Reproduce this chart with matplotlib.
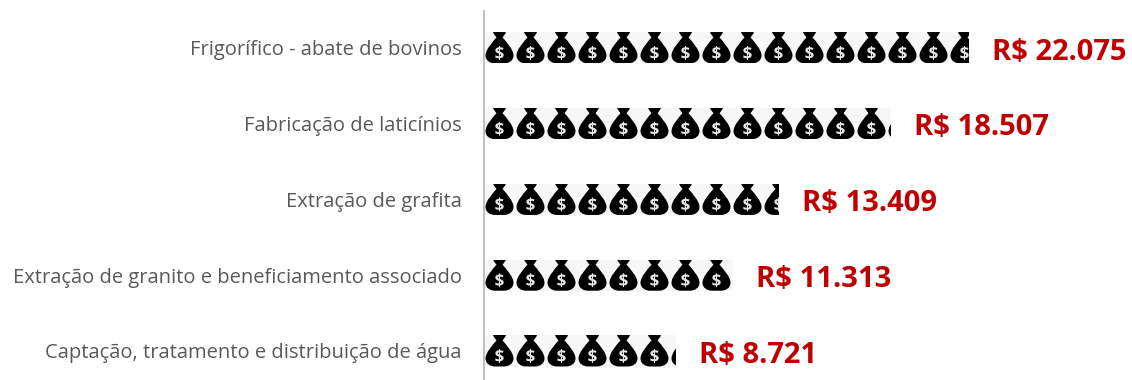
import matplotlib
matplotlib.use("Agg")
import matplotlib.pyplot as plt
from matplotlib.patches import PathPatch
from matplotlib.path import Path
from matplotlib.textpath import TextPath
from matplotlib.font_manager import FontProperties
from matplotlib.transforms import Affine2D

categories = ["Frigorífico - abate de bovinos", "Fabricação de laticínios", "Extração de grafita",
              "Extração de granito e beneficiamento associado", "Captação, tratamento e distribuição de água"]
values = [22075, 18507, 13409, 11313, 8721]
value_labels = ["R$ 22.075", "R$ 18.507", "R$ 13.409", "R$ 11.313", "R$ 8.721"]

W, H = 1132, 380
plt.rcParams["font.family"] = ["Open Sans", "DejaVu Sans"]

fig = plt.figure(figsize=(W/100, H/100), dpi=100)
ax = fig.add_axes([484/W, 0, (W-484)/W, (H-11)/H])
ax.set_xlim(0, 29495)
ax.set_ylim(4.383, -0.488)

bars = ax.barh(range(len(values)), values, height=0.41, color="#f7f7f7")

ax.set_yticks(range(len(categories)))
ax.set_yticklabels(categories, fontsize=14.5, color="#595959")
ax.tick_params(axis="y", length=0, pad=16)
ax.set_xticks([])
for s in ["top", "right", "bottom"]:
    ax.spines[s].set_visible(False)
ax.spines["left"].set_color("#bfbfbf")
ax.spines["left"].set_linewidth(1.4)

# money bag, in pixels from the top left of one tile
M, C, L, Z = Path.MOVETO, Path.CURVE4, Path.LINETO, Path.CLOSEPOLY
bag_pts = [(9, -1), (22, -1),
           (22, 1), (20, 3), (18.5, 5),
           (22, 9), (29.5, 17), (29.5, 23),
           (29.5, 28), (25, 31), (20, 31),
           (11, 31),
           (6, 31), (1.5, 28), (1.5, 23),
           (1.5, 17), (9, 9), (12.5, 5),
           (11, 3), (9, 1), (9, -1),
           (9, -1)]
bag_codes = [M, L, C, C, C, C, C, C, C, C, C, L, C, C, C, C, C, C, C, C, C, Z]
bag = Path(bag_pts, bag_codes)
dollar = TextPath((0, 0), "$", size=17, prop=FontProperties(family="Open Sans", weight="bold"))
bb = dollar.get_extents()
tile_px = 31

fig.canvas.draw()
for i, bar in enumerate(bars):
    x0, y0 = ax.transData.transform((0, i - 0.205))
    x1 = ax.transData.transform((values[i], i))[0]
    n = 0
    while x0 + n*tile_px < x1:
        tx = x0 + n*tile_px
        p = PathPatch(bag, fc="black", ec="none",
                      transform=Affine2D().scale(1, -1).translate(tx, y0))
        ax.add_patch(p)
        p.set_clip_path(bar)
        d = PathPatch(dollar, fc="#e6e6e6", ec="none",
                      transform=Affine2D().translate(-(bb.x0+bb.x1)/2, -(bb.y0+bb.y1)/2)
                      .translate(tx + 15.5, y0 - 20.5))
        ax.add_patch(d)
        d.set_clip_path(bar)
        n += 1
    ax.annotate(value_labels[i], (values[i], i), xytext=(16.6, -3), textcoords="offset points",
                va="center", ha="left", fontsize=21, fontweight="bold", color="#c00000",
                annotation_clip=False)

fig.savefig("out.png", dpi=100)
